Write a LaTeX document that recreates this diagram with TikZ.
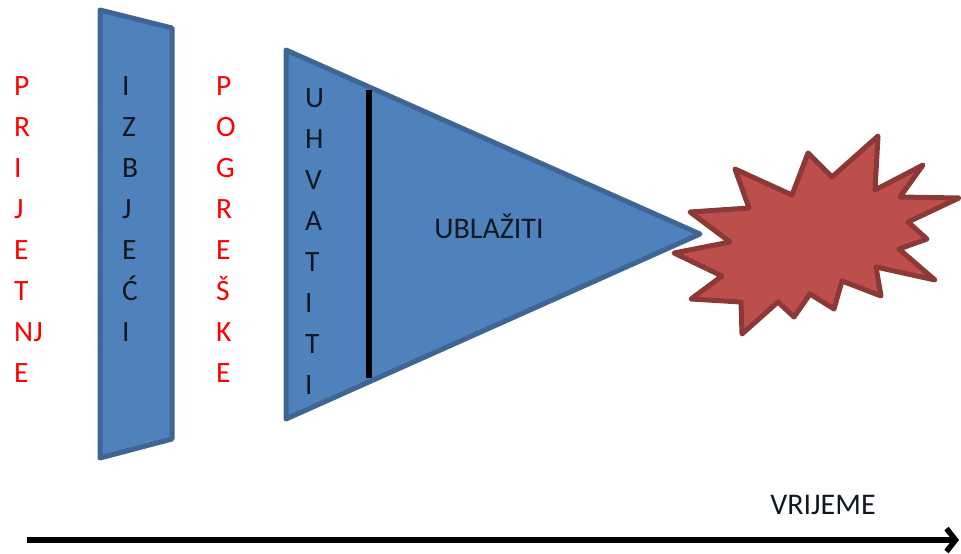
\documentclass[tikz,border=0pt]{standalone}
\usepackage{fontspec}
\setmainfont{Carlito}
\usetikzlibrary{arrows.meta}
\definecolor{bluefill}{HTML}{4F81BD}
\definecolor{blueline}{HTML}{3F6594}
\definecolor{redfill}{HTML}{BC4F4C}
\definecolor{redline}{HTML}{8C3836}
\definecolor{inktext}{HTML}{111820}
\tikzset{
  x=1pt,y=-1pt,
  blueshape/.style={draw=blueline,fill=bluefill,line width=5pt,line join=round},
  redshape/.style={draw=redline,fill=redfill,line width=5pt,line join=round},
  stack/.style={font=\fontsize{29.5}{41.1}\selectfont,align=left,inner sep=0pt,anchor=north west},
  redstack/.style={stack,text=red},
  inkstack/.style={stack,text=inktext},
  lbl/.style={font=\fontsize{30}{34}\selectfont,text=inktext,inner sep=0pt}
}
\begin{document}
\begin{tikzpicture}
\useasboundingbox (0,0) rectangle (961,554);
\path[blueshape] (100,10) -- (172,28) -- (172,439) -- (100,458) -- cycle;
\path[blueshape] (286,50) -- (700,234) -- (286,419) -- cycle;
\coordinate (bartop) at (369,90);
\coordinate (barbot) at (369,378);
\draw[line width=5.5pt] (bartop) -- (barbot);
\path[redshape] (735,169) -- (792,195) -- (808,153) -- (832,177) -- (878,136) -- (875,190) -- (923,165) -- (900,197) -- (959,198) -- (908,222) -- (927,239) -- (899,249) -- (935,280) -- (876,267) -- (881,296) -- (842,281) -- (834,309) -- (810,294) -- (794,317) -- (778,302) -- (742,334) -- (741,302) -- (691,299) -- (722,276) -- (674,253) -- (730,242) -- (690,212) -- (749,208) -- cycle;
\node[redstack] (prijetnje) at (14,76) {P\\R\\I\\J\\E\\T\\NJ\\E};
\node[inkstack] (izbjeci) at (122,76) {I\\Z\\B\\J\\E\\Ć\\I};
\node[redstack] (pogreske) at (216,76) {P\\O\\G\\R\\E\\Š\\K\\E};
\node[inkstack] (uhvatiti) at (305,88) {U\\H\\V\\A\\T\\I\\T\\I};
\node[lbl] (ublaziti) at (489,226) {UBLAŽITI};
\node[lbl] (vrijeme) at (823,505) {VRIJEME};
\coordinate (tstart) at (27,540);
\coordinate (tend) at (959,540);
\draw[line width=5.5pt,-{Straight Barb[length=9pt,width=23pt,line width=5.5pt]}] (tstart) -- (tend);
\end{tikzpicture}
\end{document}
